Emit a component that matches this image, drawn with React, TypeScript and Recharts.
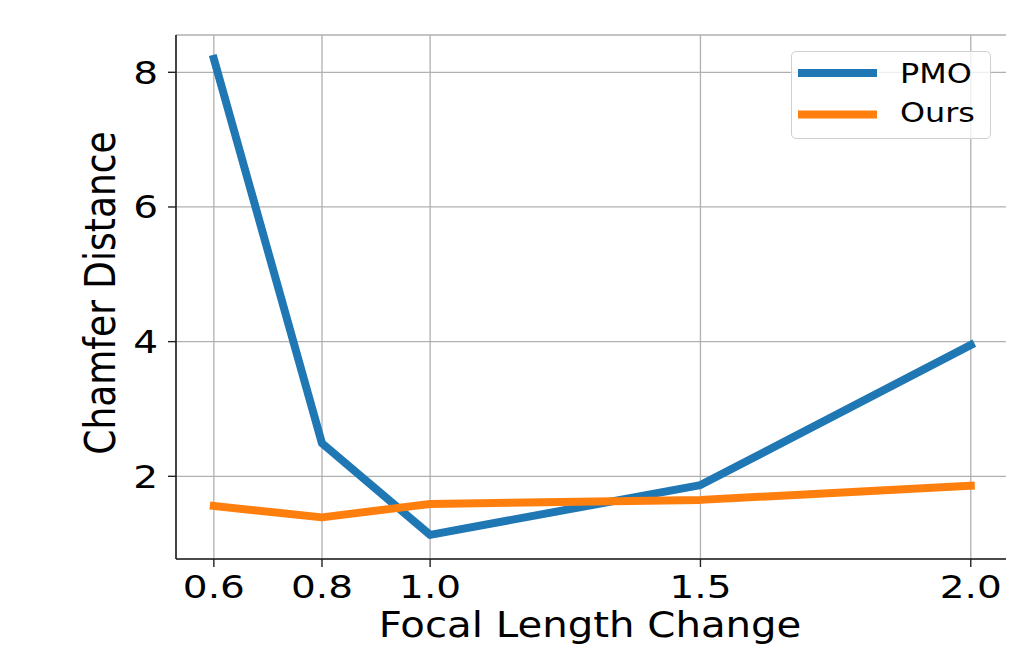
import React from "react";
import {
  LineChart,
  Line,
  XAxis,
  YAxis,
  CartesianGrid,
  Label,
} from "recharts";

// focal length change factors
const focal = [0.6, 0.8, 1.0, 1.5, 2.0];
const pmo = [8.2, 2.49, 1.13, 1.87, 3.95];
const ours = [1.56, 1.39, 1.59, 1.65, 1.86];

const xTicks = [0.6, 0.8, 1.0, 1.5, 2.0];
const yTicks = [2, 4, 6, 8];

const seriesNames = ["PMO", "Ours"];
const seriesColors = ["#1f77b4", "#ff7f0e"];

const data = focal.map((f, i) => ({ focal: f, PMO: pmo[i], Ours: ours[i] }));

const FONT = "DejaVu Sans";
const SX = 1.22; // the source figure is stretched horizontally

const XTick = (props: any) => {
  const { x, y, payload } = props;
  return (
    <g transform={`translate(${x},${y})`}>
      <text
        transform={`scale(${SX},1)`}
        y={31}
        textAnchor="middle"
        fontSize={32}
        fontFamily={FONT}
        fill="#000"
      >
        {Number(payload.value).toFixed(1)}
      </text>
    </g>
  );
};

const YTick = (props: any) => {
  const { x, y, payload } = props;
  return (
    <g transform={`translate(${x - 10},${y})`}>
      <text
        transform={`scale(${SX},1)`}
        y={11.5}
        textAnchor="end"
        fontSize={32}
        fontFamily={FONT}
        fill="#000"
      >
        {payload.value}
      </text>
    </g>
  );
};

export default function App() {
  return (
    <div style={{ position: "relative", width: 1006, height: 639 }}>
      <LineChart
        width={1006}
        height={639}
        data={data}
        margin={{ top: 27, right: 7, bottom: 48, left: 108 }}
      >
        <CartesianGrid stroke="#b0b0b0" strokeWidth={1.3} />
        <XAxis
          dataKey="focal"
          type="number"
          domain={[0.53, 2.067]}
          ticks={xTicks}
          allowDataOverflow
          height={40}
          tickSize={8}
          tickMargin={0}
          tick={<XTick />}
          axisLine={{ stroke: "#222", strokeWidth: 1.6 }}
          tickLine={{ stroke: "#222", strokeWidth: 1.4 }}
        >
          <Label
            content={() => (
              <text
                transform={`translate(582,629) scale(1.15,1)`}
                textAnchor="middle"
                fontSize={35}
                fontFamily={FONT}
                fill="#000"
              >
                Focal Length Change
              </text>
            )}
          />
        </XAxis>
        <XAxis
          xAxisId="top"
          orientation="top"
          dataKey="focal"
          type="number"
          domain={[0.53, 2.067]}
          height={0}
          tick={false}
          tickLine={false}
          axisLine={{ stroke: "#222", strokeWidth: 1.6 }}
        />
        <YAxis
          type="number"
          domain={[0.772, 8.554]}
          ticks={yTicks}
          allowDataOverflow
          width={60}
          tickSize={8}
          tickMargin={0}
          tick={<YTick />}
          axisLine={{ stroke: "#222", strokeWidth: 1.6 }}
          tickLine={{ stroke: "#222", strokeWidth: 1.4 }}
        >
          <Label
            content={() => (
              <text
                transform={`translate(107,285) rotate(-90) scale(1,1.18)`}
                textAnchor="middle"
                fontSize={36}
                fontFamily={FONT}
                fill="#000"
              >
                Chamfer Distance
              </text>
            )}
          />
        </YAxis>
        <YAxis
          yAxisId="right"
          orientation="right"
          type="number"
          domain={[0.772, 8.554]}
          width={0}
          tick={false}
          tickLine={false}
          axisLine={{ stroke: "#222", strokeWidth: 1.6 }}
        />
        {seriesNames.map((name, i) => (
          <Line
            key={name}
            dataKey={name}
            stroke={seriesColors[i]}
            strokeWidth={8}
            strokeLinecap="square"
            strokeLinejoin="round"
            dot={false}
            activeDot={false}
            isAnimationActive={false}
          />
        ))}
      </LineChart>
      <div
        style={{
          position: "absolute",
          left: 783,
          top: 43,
          width: 200,
          height: 88,
          boxSizing: "border-box",
          border: "1.5px solid #d0d0d0",
          borderRadius: 5,
          background: "rgba(255,255,255,0.8)",
        }}
      >
        <svg width={197} height={85} style={{ display: "block" }}>
          {seriesNames.map((name, i) => (
            <g key={name}>
              <line
                x1={6}
                x2={85}
                y1={21 + i * 41.5}
                y2={21 + i * 41.5}
                stroke={seriesColors[i]}
                strokeWidth={8}
              />
              <text
                transform={`translate(108,${31 + i * 39}) scale(1.18,1)`}
                fontSize={27}
                fontFamily={FONT}
                fill="#000"
              >
                {name}
              </text>
            </g>
          ))}
        </svg>
      </div>
    </div>
  );
}
